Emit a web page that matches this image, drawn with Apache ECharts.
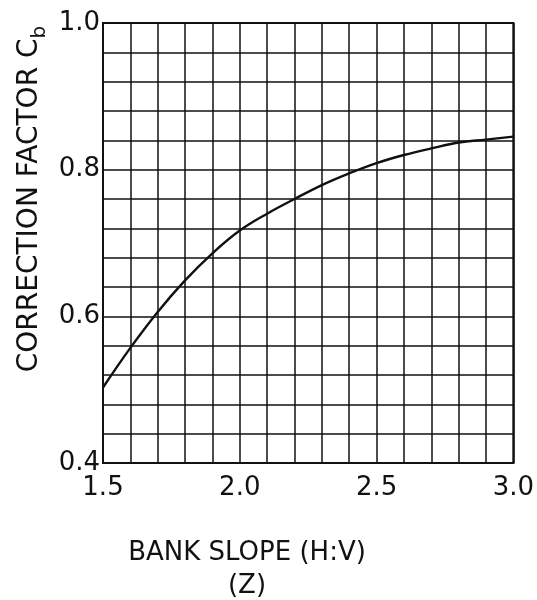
<!DOCTYPE html>
<html style="height: 100%">
<head>
    <meta charset="utf-8">
    <title>Correction factor Cb</title>
    <script src="https://cdn.jsdelivr.net/npm/echarts@6/dist/echarts.min.js"></script>
</head>
<body style="height: 100%; margin: 0; background: #fff">
<div id="container" style="width: 537px; height: 600px"></div>
<script type="text/javascript">
    // bank slope Z (H:V) and the read-off correction factor
    var slopes = [1.5, 1.6, 1.7, 1.8, 1.9, 2.0, 2.1, 2.2, 2.3, 2.4, 2.5, 2.6, 2.7, 2.8, 2.9, 3.0];
    var factors = [0.503, 0.557, 0.606, 0.649, 0.686, 0.717, 0.740, 0.760, 0.779, 0.795, 0.809, 0.820, 0.829, 0.837, 0.841, 0.845];
    var xLabels = ['1.5', '2.0', '2.5', '3.0'];
    var yLabels = ['0.4', '0.6', '0.8', '1.0'];

    var font = 'DejaVu Sans';
    var ink = '#111';

    function pick(labels) {
        return function (v) {
            var s = v.toFixed(1);
            if (Math.abs(v - Number(s)) < 1e-6 && labels.indexOf(s) >= 0) return s;
            return '';
        };
    }

    var dom = document.getElementById('container');
    var myChart = echarts.init(dom);

    var data = [];
    for (var i = 0; i < slopes.length; i++) {
        data.push([slopes[i], factors[i]]);
    }

    var option = {
        backgroundColor: '#fff',
        animation: false,
        grid: {
            left: 103, right: 21, top: 23, bottom: 137,
            show: true, borderColor: ink, borderWidth: 2
        },
        xAxis: {
            type: 'value',
            min: 1.5, max: 3.0, interval: 0.1,
            axisLine: {show: true, lineStyle: {color: ink, width: 2}},
            axisTick: {show: false},
            axisLabel: {
                formatter: pick(xLabels), color: ink,
                fontFamily: font, fontSize: 26, margin: 12,
                showMinLabel: true, showMaxLabel: true
            },
            splitLine: {show: true, lineStyle: {color: ink, width: 1.5}}
        },
        yAxis: {
            type: 'value',
            min: 0.4, max: 1.0, interval: 0.04,
            axisLine: {show: true, lineStyle: {color: ink, width: 2}},
            axisTick: {show: false},
            axisLabel: {
                formatter: pick(yLabels), color: ink,
                fontFamily: font, fontSize: 26, margin: 3,
                showMinLabel: true, showMaxLabel: true
            },
            splitLine: {show: true, lineStyle: {color: ink, width: 1.5}}
        },
        graphic: [
            {
                type: 'text',
                x: 33, y: 199,
                rotation: Math.PI / 2,
                style: {
                    text: '{a|CORRECTION FACTOR C}{b|b}',
                    align: 'center', verticalAlign: 'middle',
                    fill: ink,
                    rich: {
                        a: {fontFamily: font, fontSize: 28, lineHeight: 34, verticalAlign: 'top', fill: ink},
                        b: {fontFamily: font, fontSize: 20, lineHeight: 14, verticalAlign: 'bottom', fill: ink}
                    }
                }
            },
            {
                type: 'text',
                x: 247, y: 570,
                style: {
                    text: 'BANK SLOPE (H:V)\n(Z)',
                    align: 'center', verticalAlign: 'middle',
                    fontFamily: font, fontSize: 26, lineHeight: 33,
                    fill: ink
                }
            }
        ],
        series: [{
            type: 'line',
            data: data,
            smooth: 0.4,
            showSymbol: false,
            lineStyle: {color: ink, width: 2.4}
        }]
    };

    myChart.setOption(option, true);
</script>
</body>
</html>
